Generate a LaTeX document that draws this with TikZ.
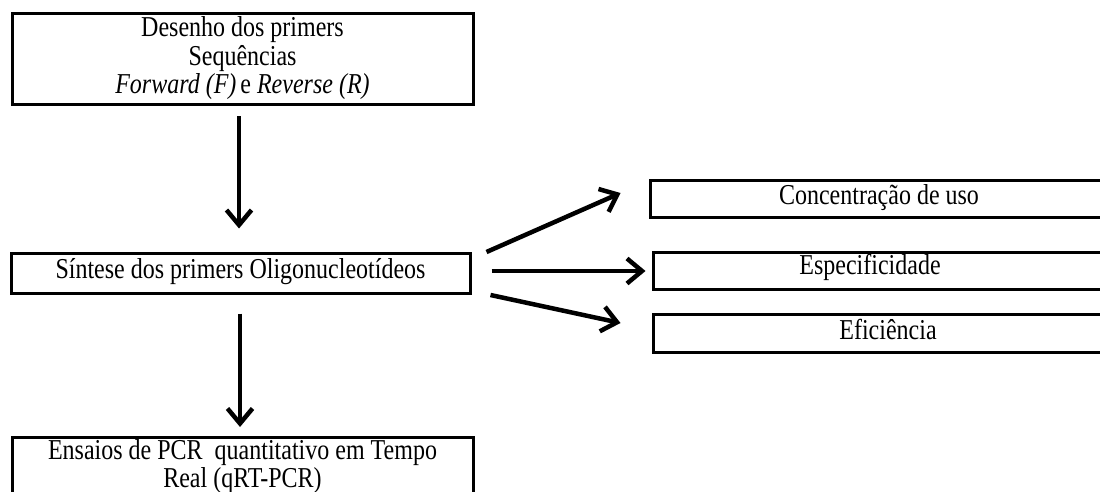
\documentclass[tikz,border=0pt]{standalone}
\usepackage{fontspec}
\setmainfont{Liberation Serif}
\usepackage{graphicx}
\usetikzlibrary{arrows.meta}
\newcommand\tx[1]{\scalebox{1}[1.2]{\begin{tabular}{@{}c@{}}#1\end{tabular}}}
\begin{document}
\begin{tikzpicture}[x=1pt,y=-1pt,
  box/.style={draw, line width=3pt, inner sep=0pt, font=\fontsize{24}{23.5}\selectfont},
  lbl/.style={font=\fontsize{24}{25}\selectfont, inner sep=0pt},
  arr/.style={line width=4.5pt, -{Straight Barb[length=15pt,width=25pt,line width=4.5pt]}}]
\useasboundingbox (0,0) rectangle (1100,492);
\clip (0,0) rectangle (1100,492);
\node[box, minimum width=461pt, minimum height=91pt] (b1) at (242.5,59.5)
  {\tx{Desenho dos primers\\Sequências\\\textit{Forward (F)}\,e \textit{Reverse (R)}}};
\node[box, minimum width=459pt, minimum height=40pt] (b2) at (240.5,273)
  {\tx{Síntese dos primers Oligonucleotídeos}};
\node[box, minimum width=461pt, anchor=north, inner xsep=0pt, inner ysep=2pt, font=\fontsize{24}{21.7}\selectfont] (b3) at (242.5,436)
  {\tx{Ensaios de PCR\ \ quantitativo em Tempo\\Real (qRT-PCR)\\ \\ \\}};
\node[box, minimum width=458pt, minimum height=37pt] (ba) at (879,198.5) {};
\node[box, minimum width=455pt, minimum height=37pt] (bb) at (880.5,270.5) {};
\node[box, minimum width=455pt, minimum height=38pt] (bc) at (880.5,333) {};
\node[lbl] at (879,199) {\tx{Concentração de uso}};
\node[lbl] at (870,268) {\tx{Especificidade}};
\node[lbl] at (888,333) {\tx{Eficiência}};
\coordinate (mtip) at ([xshift=-26pt]bb.west);
\draw[arr] ([shift={(-3.5,10)}]b1.south) -- ([shift={(-3.5,-23)}]b1.south |- b2.north);
\draw[arr] ([shift={(-0.5,19)}]b2.south) -- ([shift={(-0.5,-9)}]b2.south |- b3.north);
\draw[arr] ([shift={(15,-21)}]b2.east) -- ([shift={(-28,-5.5)}]ba.west);
\draw[arr] ([shift={(20,-2)}]b2.east) -- ([shift={(20,-2)}]b2.east -| mtip);
\draw[arr] ([shift={(19,22)}]b2.east) -- ([shift={(-31,-10)}]bc.west);
\end{tikzpicture}
\end{document}
